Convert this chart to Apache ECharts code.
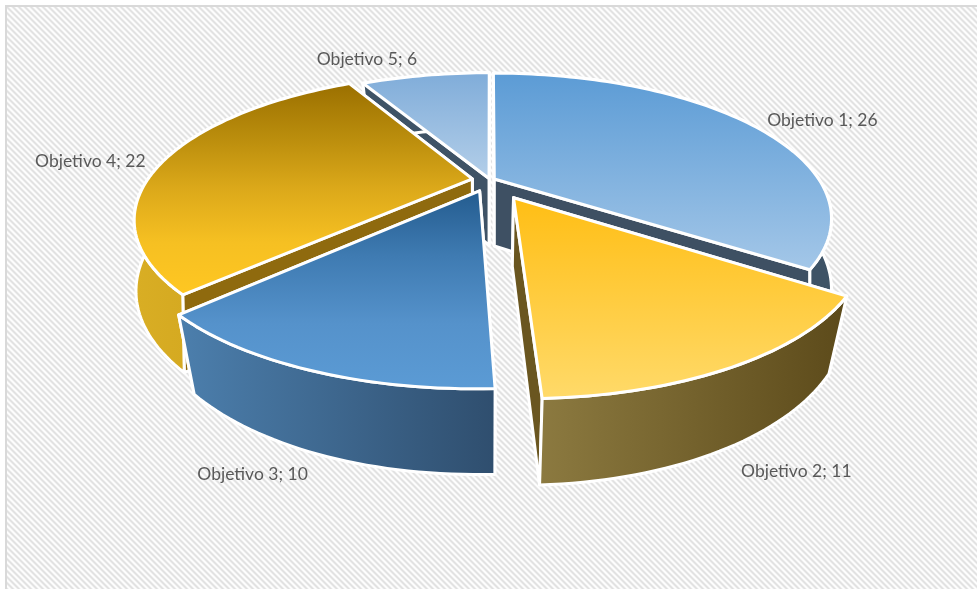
<!DOCTYPE html>
<html><head><meta charset="utf-8">
<style>html,body{margin:0;padding:0;background:#fff;overflow:hidden}#c{width:977px;height:589px}</style>
<script src="https://cdn.jsdelivr.net/npm/echarts@6/dist/echarts.min.js"></script>
</head><body><div id="c"></div>
<script>
const categories = ['Objetivo 1','Objetivo 2','Objetivo 3','Objetivo 4','Objetivo 5'];
const values = [26,11,10,22,6];

const total = values.reduce((a,b)=>a+b,0);
const cx=490, cy=180, Rx=325, Ry=135, H=67, K=0.27, KH=0.2;
const explode=[0.015,0.145,0.085,0.055,0.012];
const radius=[1,1,1.012,1,1];
const taper=[0,0.05,0.05,0.005,0.05];
const drawOrder=[4,0,3,2,1];
const labelNudge=[[73,-31],[30,39],[-33,36],[-60,-27],[-55,-33]];
const labelRadius=[1.0,1.12,1.13,1.05,1.1];
const styles=[
 {top:['#5B9BD5','#A4C7E8'],outer:['#3E5366','#3E5366'],cut:'#3E5063'},
 {top:['#FFBE14','#FFDA6A'],outer:['#8C7A40','#5C4A1A'],cut:'#6A5620'},
 {top:['#235B8E','#3F7BB2','#5592CB','#5B9BD5'],outer:['#4C7FAD','#2F4E6E'],cut:'#2F4E6E'},
 {top:['#9A6F00','#B98C0C','#DCA91A','#F6C022','#FFC722'],outer:['#D9AE24','#C89C18'],cut:'#8F6A0E'},
 {top:['#7FACD9','#B4CFE9'],outer:['#3E5366','#3E5366'],cut:'#3F5366'}
];

function project(u,v,d,g){
  const s=1/(1-K*v), sh=1/(1-KH*v);
  return [cx+Rx*u*s*(1-g*d), cy+Ry*v*s+H*d*sh];
}
function renderSlice(params,api){
  const idx=api.value(0), val=api.value(1);
  let before=0; for(let i=0;i<idx;i++) before+=values[i];
  const a0=before/total*2*Math.PI, a1=(before+val)/total*2*Math.PI, mid=(a0+a1)/2;
  const e=explode[idx], ou=e*Math.sin(mid), ov=-e*Math.cos(mid), R=radius[idx];
  const pt=(t,r,d)=>project(ou+r*Math.sin(t),ov-r*Math.cos(t),d,taper[idx]);
  const n=Math.max(12,Math.round((a1-a0)*40));
  const arc=(d,rev)=>{const o=[];for(let i=0;i<=n;i++){const t=a0+(a1-a0)*(rev?n-i:i)/n;o.push(pt(t,R,d));}return o;};
  const st=styles[idx], stroke={stroke:'#fff',lineWidth:3,lineJoin:'round'};
  const grad=(c,h)=>new echarts.graphic.LinearGradient(0,0,h?1:0,h?0:1,c.map((col,i)=>({offset:i/(c.length-1),color:col})));
  const poly=(pts,fill)=>({type:'polygon',shape:{points:pts},style:Object.assign({fill},stroke)});
  const c0=pt(0,0,0), c1=pt(0,0,1);
  const lp=pt(mid,labelRadius[idx],0.45);
  const f0=poly([c0,pt(a0,R,0),pt(a0,R,1),c1],st.cut), f1=poly([c0,pt(a1,R,0),pt(a1,R,1),c1],st.cut);
  const faces=mid>Math.PI?[f1,f0]:[f0,f1];
  return {type:'group',children:faces.concat([
    poly(arc(0,false).concat(arc(1,true)),grad(st.outer,true)),
    poly([c0].concat(arc(0,false)),grad(st.top,false)),
    {type:'text',z2:50,x:lp[0]+labelNudge[idx][0],y:lp[1]+labelNudge[idx][1],
     style:{text:categories[idx]+'; '+val,fill:'#595959',font:'17.5px Lato',align:'center',verticalAlign:'middle'}}
  ])};
}
const tile=document.createElement('canvas');tile.width=tile.height=6;
(function(){const g=tile.getContext('2d'),ramp=['#e0e0e0','#e8e8e8','#f8f8f8','#ffffff','#f8f8f8','#e8e8e8'];
 for(let x=0;x<6;x++)for(let y=0;y<6;y++){g.fillStyle=ramp[((x-y)%6+6)%6];g.fillRect(x,y,1,1);}})();

const chart=echarts.init(document.getElementById('c'),null,{renderer:'canvas'});
chart.setOption({
  animation:false,backgroundColor:'#fff',
  graphic:[{type:'rect',z:-10,silent:true,shape:{x:6,y:6,width:1000,height:1000},
    style:{fill:{image:tile,repeat:'repeat'},stroke:'#d9d9d9',lineWidth:2}}],
  series:[{type:'custom',coordinateSystem:'none',renderItem:renderSlice,
    data:drawOrder.map(i=>[i,values[i]]),encode:{value:1}}]
});
</script></body></html>
